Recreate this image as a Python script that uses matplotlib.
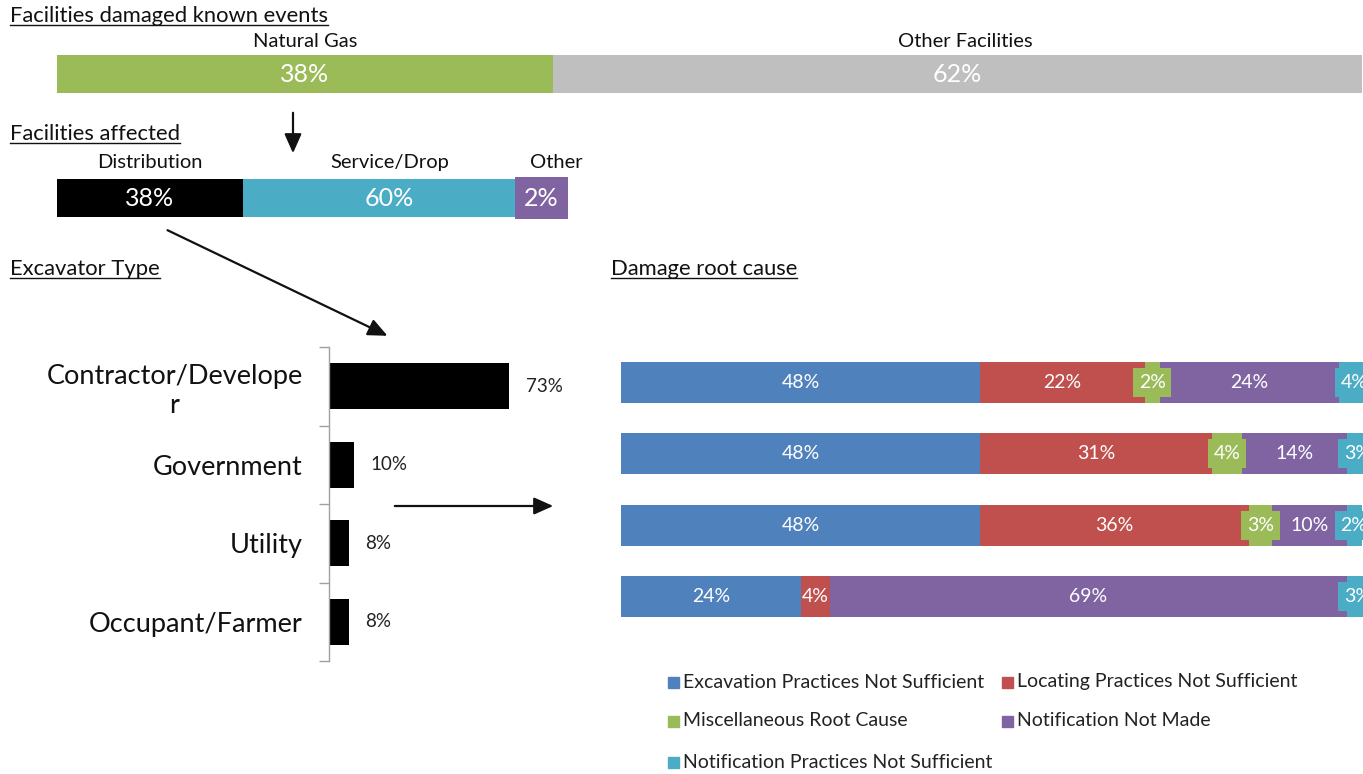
import matplotlib
matplotlib.use('Agg')
import matplotlib.pyplot as plt
from matplotlib.patches import FancyArrowPatch, Rectangle
from matplotlib.lines import Line2D

W, H = 1363, 774
plt.rcParams['font.family'] = ['Lato', 'DejaVu Sans']

# ---------------- data ----------------
facility_labels = ['Natural Gas', 'Other Facilities']
facility_values = [38, 62]
facility_colors = ['#9BBB59', '#BFBFBF']

affected_labels = ['Distribution', 'Service/Drop', 'Other']
affected_values = [38, 60, 2]
affected_colors = ['#000000', '#4BACC6', '#8064A2']

excavator_types = ['Contractor/Develope\nr', 'Government', 'Utility', 'Occupant/Farmer']
excavator_values = [73, 10, 8, 8]

root_causes = ['Excavation Practices Not Sufficient', 'Locating Practices Not Sufficient',
               'Miscellaneous Root Cause', 'Notification Not Made',
               'Notification Practices Not Sufficient']
root_colors = ['#4F81BD', '#C0504D', '#9BBB59', '#8064A2', '#4BACC6']
excavation_ns = [48, 48, 48, 24]
locating_ns = [22, 31, 36, 4]
misc_root = [2, 4, 3, 0]
notification_nm = [24, 14, 10, 69]
notification_ns = [4, 3, 2, 3]
root_values = [excavation_ns, locating_ns, misc_root, notification_nm, notification_ns]
root_label_boxed = [False, False, True, False, True]

# ---------------- helpers ----------------
fig = plt.figure(figsize=(W / 100, H / 100), dpi=100)


def add_ax(x0, y0, x1, y1):
    return fig.add_axes([x0 / W, 1 - y1 / H, (x1 - x0) / W, (y1 - y0) / H])


def fpt(x, y):
    return (x / W, 1 - y / H)


titles = []


def title(x, y, s):
    t = fig.text(x / W, 1 - y / H, s, fontsize=15.8, ha='left', va='center', color='#111111')
    titles.append(t)


def stacked_single(ax, labels, values, colors, fs, head_fs, head_offsets, head_dy):
    left = 0
    for lab, v, c, off in zip(labels, values, colors, head_offsets):
        ax.barh(0, v, left=left, height=1.0, color=c, edgecolor='none')
        cx = left + v / 2
        box = dict(boxstyle='square,pad=0.37', fc=c, ec='none') if v < 5 else None
        ax.text(cx, 0, f'{v}%', ha='center', va='center', color='white', fontsize=fs,
                bbox=box, clip_on=False)
        ax.annotate(lab, xy=(cx, 0.5), xytext=(off, head_dy), textcoords='offset points',
                    ha='center', va='center', fontsize=head_fs, color='#111111',
                    annotation_clip=False)
        left += v
    ax.set_xlim(0, 100)
    ax.set_ylim(-0.5, 0.5)
    ax.axis('off')


# ---------------- top bar ----------------
ax1 = add_ax(57, 55, 57 + 1305, 93)
stacked_single(ax1, facility_labels, facility_values, facility_colors, 18, 14.5, [0, 6], 9.5)
title(10, 16, 'Facilities damaged known events')

# ---------------- facilities affected ----------------
ax2 = add_ax(57, 179, 57 + 489, 217)
stacked_single(ax2, affected_labels, affected_values, affected_colors, 18, 14.5, [0, 0, 11], 12)
title(10, 134, 'Facilities affected')

# ---------------- excavator type ----------------
title(10, 269, 'Excavator Type')
ax3 = add_ax(329, 347, 329 + 247, 661)
ypos = list(range(len(excavator_types)))
ax3.barh(ypos, excavator_values, height=0.58, color='black')
for y, v in zip(ypos, excavator_values):
    ax3.annotate(f'{v}%', xy=(v, y), xytext=(12, 0), textcoords='offset points',
                 ha='left', va='center', fontsize=13.5, color='#222222', annotation_clip=False)
ax3.set_xlim(0, 100)
ax3.set_ylim(len(excavator_types) - 0.5, -0.5)
for s in ['top', 'right', 'bottom']:
    ax3.spines[s].set_visible(False)
ax3.spines['left'].set_color('#A0A0A0')
ax3.spines['left'].set_linewidth(1.0)
ax3.set_xticks([])
ax3.set_yticks(ypos)
ax3.set_yticklabels(excavator_types, fontsize=19.5, color='#111111', multialignment='center')
ax3.tick_params(axis='y', which='major', length=0, pad=19)
ax3.set_yticks([i - 0.5 for i in range(len(excavator_types) + 1)], minor=True)
ax3.tick_params(axis='y', which='minor', length=7, color='#A0A0A0', width=1.0)

# ---------------- damage root cause ----------------
title(611, 269, 'Damage root cause')
ax4 = add_ax(621, 362, 621 + 748, 617)
rows = list(range(len(excavation_ns)))
bh = 41 / 71.5
lefts = [0] * len(rows)
for name, vals, c, boxed in zip(root_causes, root_values, root_colors, root_label_boxed):
    ax4.barh(rows, vals, left=lefts, height=bh, color=c, edgecolor='none', label=name)
    for r, v, l in zip(rows, vals, lefts):
        if v > 0:
            box = dict(boxstyle='square,pad=0.3', fc=c, ec='none') if boxed else None
            ax4.text(l + v / 2, r, f'{v}%', ha='center', va='center', color='white',
                     fontsize=14, bbox=box, clip_on=False)
    lefts = [a + b for a, b in zip(lefts, vals)]
ax4.set_xlim(0, 100)
ax4.set_ylim(len(rows) - 1 + bh / 2, -bh / 2)
ax4.axis('off')

# legend (manual, 2 columns)
leg_pos = [(668, 682), (1002, 682), (668, 721), (1002, 721), (668, 762)]
for name, c, (x, y) in zip(root_causes, root_colors, leg_pos):
    fig.patches.append(Rectangle((x / W, 1 - (y + 5.5) / H), 11 / W, 11 / H,
                                 transform=fig.transFigure, color=c))
    fig.text((x + 15) / W, 1 - y / H, name, fontsize=14, ha='left', va='center', color='#222222')

# ---------------- arrows ----------------
for (x0, y0), (x1, y1) in [((293, 110), (293, 156)), ((165, 229), (390, 337)), ((392, 506), (556, 506))]:
    fig.patches.append(FancyArrowPatch(fpt(x0, y0), fpt(x1, y1), transform=fig.transFigure,
                                       arrowstyle='-|>,head_length=9,head_width=4',
                                       color='#111111', lw=1.6, mutation_scale=1.3))

# ---------------- underline titles ----------------
fig.canvas.draw()
r = fig.canvas.get_renderer()
for t in titles:
    bb = t.get_window_extent(r)
    yline = bb.y0 + 1
    fig.lines.append(Line2D([bb.x0 / W, bb.x1 / W], [yline / H, yline / H],
                            transform=fig.transFigure, color='#111111', lw=1.0))

fig.savefig('out.png', dpi=100)
